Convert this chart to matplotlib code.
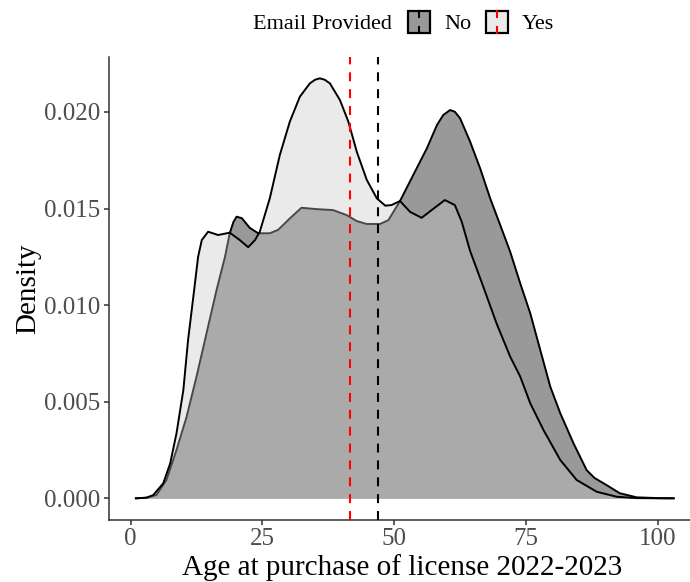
import matplotlib
matplotlib.use("Agg")
import matplotlib.pyplot as plt
from matplotlib.patches import Rectangle
from matplotlib.lines import Line2D

# ---- data ----
groups = ["No", "Yes"]
legend_title = "Email Provided"

no_x = [1, 3, 4.9, 6.8, 8.7, 10.6, 12.5, 14.4, 16.3, 17.9, 18.8, 19.5, 20.1, 21.1, 22.6,
        24.2, 26.4, 28, 30.2, 32.4, 35.3, 38.4, 41, 42.9, 44.8, 47.3, 48.9, 51.1,
        53.6, 56.2, 58.1, 59.3, 60.6, 61.5, 62.5, 64.4, 66.3, 68.2, 70.1, 72, 73.9,
        75.8, 77.7, 79.6, 81.5, 84, 86.5, 88, 89.7, 92.8, 96, 100, 103]
no_y = [0, 0.00003, 0.00017, 0.00095, 0.0025, 0.0042, 0.0063, 0.00854, 0.01078,
        0.0125, 0.01372, 0.0143, 0.01458, 0.0145, 0.0140, 0.01372, 0.01372, 0.0139,
        0.01449, 0.01504, 0.01497, 0.01492, 0.01466, 0.01435, 0.0142, 0.0142, 0.0144,
        0.01539, 0.01673, 0.01812, 0.01932, 0.01984, 0.0201, 0.02001, 0.01967,
        0.01846, 0.01708, 0.01553, 0.01415, 0.01276, 0.01113, 0.00958, 0.00768,
        0.00578, 0.0044, 0.00285, 0.00146, 0.00105, 0.00078, 0.00026, 0.00005,
        0.00001, 0]

yes_x = [1, 3, 4.3, 6.2, 7.5, 8.7, 10, 10.9, 11.9, 12.8, 13.5, 14.7, 16.6, 18.8,
         20.7, 22.3, 23.6, 24.5, 26.4, 28.3, 30.2, 32.1, 34, 35, 35.9, 36.8, 37.8,
         39.7, 41.3, 42.9, 44.8, 46.7, 48.3, 49.5, 51.1, 53, 55.2, 57.1, 59.6, 61.5,
         62.8, 64.4, 66.9, 69.4, 72, 73.9, 75.8, 78.3, 81.5, 84.6, 88.4, 92.2, 96,
         100, 103]
yes_y = [0, 0.00003, 0.00017, 0.00078, 0.0018, 0.00336, 0.0056, 0.0082, 0.01044,
         0.0125, 0.01337, 0.0138, 0.01363, 0.01375, 0.01337, 0.0130, 0.01337, 0.0138,
         0.01553, 0.01777, 0.0195, 0.02079, 0.02148, 0.02167, 0.02174, 0.02167,
         0.02148, 0.02062, 0.0195, 0.01794, 0.01648, 0.01553, 0.01515, 0.01518,
         0.01539, 0.01483, 0.01452, 0.01492, 0.01544, 0.01518, 0.01432, 0.0128,
         0.01095, 0.00906, 0.00733, 0.0063, 0.00492, 0.00354, 0.00198, 0.00095,
         0.00034, 0.00008, 0.00001, 0, 0]

mean_no = 47.0
mean_yes = 41.7

x_ticks = [0, 25, 50, 75, 100]
y_ticks = [0.000, 0.005, 0.010, 0.015, 0.020]
y_tick_labels = ["0.000", "0.005", "0.010", "0.015", "0.020"]
x_title = "Age at purchase of license 2022-2023"
y_title = "Density"

# ---- style ----
SERIF = ["Liberation Serif", "DejaVu Serif"]
plt.rcParams["font.family"] = SERIF
W, H = 690, 582
fig = plt.figure(figsize=(W / 100, H / 100), dpi=100)

def fx(px):
    return px / W

def fy(py):
    return 1 - py / H

left, right, top, bottom = 109, 700, 57.3, 520
ax = fig.add_axes([fx(left), fy(bottom), (right - left) / W, (bottom - top) / H])

no_fill = "#999999"
yes_fill = (200 / 255, 200 / 255, 200 / 255)
yes_alpha = 0.363

ax.fill_between(no_x, 0, no_y, color=no_fill, lw=0, zorder=1)
ax.plot(no_x, no_y, color="black", lw=1.4, zorder=2, solid_joinstyle="round")
ax.fill_between(yes_x, 0, yes_y, color=yes_fill, alpha=yes_alpha, lw=0, zorder=3)
ax.plot(yes_x, yes_y, color="black", lw=1.4, zorder=4, solid_joinstyle="round")

ax.axvline(mean_yes, color="#FF0000", lw=1.5, linestyle=(0, (4.3, 3.8)), zorder=5)
ax.axvline(mean_no, color="black", lw=1.5, linestyle=(0, (4.3, 3.8)), zorder=5)

ax.set_xlim(-4.1, 108.0)
ax.set_ylim(-0.001123, 0.02283)
ax.set_xticks(x_ticks)
ax.set_xticklabels([str(v) for v in x_ticks])
ax.set_yticks(y_ticks)
ax.set_yticklabels(y_tick_labels)

for s in ["top", "right"]:
    ax.spines[s].set_visible(False)
for s in ["left", "bottom"]:
    ax.spines[s].set_color("#333333")
    ax.spines[s].set_linewidth(1.1)
ax.tick_params(axis="both", direction="out", length=3.6, width=1.1, color="#333333",
               labelsize=18, labelcolor="#4D4D4D", pad=2.5)
for lab in ax.get_xticklabels() + ax.get_yticklabels():
    lab.set_family(SERIF)

fig.text(fx(402.5), fy(575), x_title, ha="center", va="baseline", fontsize=21,
         color="black", family=SERIF)
fig.text(fx(28), fy(288.5), y_title, ha="center", va="center", rotation=90,
         fontsize=21, color="black", family=SERIF)

# ---- legend (top) ----
fig.text(fx(253), fy(29.3), legend_title, ha="left", va="baseline", fontsize=16,
         color="black", family=SERIF)
key_specs = [(407.7, no_fill, "black", groups[0], 444),
             (485.7, (235/255, 235/255, 235/255), "#FF0000", groups[1], 522)]
for kx, fc, lc, label, tx in key_specs:
    kw, kh, ky = 22.6, 21.7, 11
    fig.patches.append(Rectangle((fx(kx), fy(ky + kh)), kw / W, kh / H,
                                 transform=fig.transFigure, facecolor=fc,
                                 edgecolor="black", lw=1.6))
    cx = kx + kw / 2
    for y0, y1 in [(ky, ky + 5.7), (ky + 15.7, ky + kh)]:
        fig.lines.append(Line2D([fx(cx), fx(cx)], [fy(y0), fy(y1)],
                                transform=fig.transFigure, color=lc, lw=1.5))
    fig.text(fx(tx), fy(29.3), label, ha="left", va="baseline", fontsize=16,
             color="black", family=SERIF)

fig.savefig("out.png", dpi=100)
